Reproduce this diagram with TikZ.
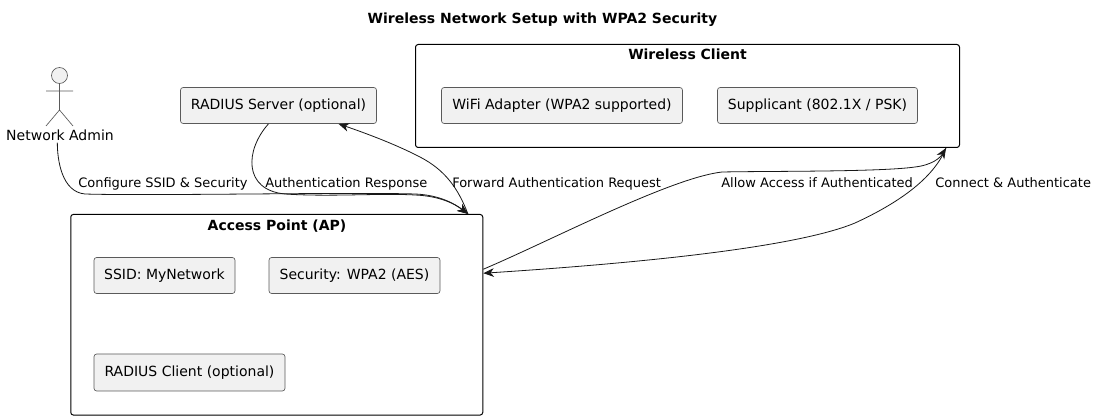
\documentclass[tikz,border=0pt]{standalone}
\usepackage{fontspec}
\setmainfont{DejaVu Sans}
\usetikzlibrary{arrows.meta}
\definecolor{boxfill}{HTML}{F1F1F1}
\definecolor{ink}{HTML}{181818}
\definecolor{edge}{HTML}{5A5A5A}
\tikzset{
  box/.style={draw=edge,line width=0.5pt,fill=boxfill,rounded corners=2pt,inner sep=0pt,text=black,font=\fontsize{10.5pt}{12pt}\selectfont},
  group/.style={draw=black,line width=0.75pt,rounded corners=2pt,inner sep=0pt},
  grouptitle/.style={inner sep=0pt,font=\fontsize{10.5pt}{12pt}\selectfont\bfseries},
  link/.style={draw=ink,line width=0.6pt,-{Stealth[length=8pt,width=6.5pt,inset=2.5pt]}},
  linklabel/.style={inner sep=0pt,anchor=base west,font=\fontsize{9.75pt}{12pt}\selectfont},
  limb/.style={draw=edge,line width=0.5pt}
}
\begin{document}
\begin{tikzpicture}[x=0.75pt,y=-0.75pt]
  \useasboundingbox (0,0) rectangle (1097,420);
  \node[grouptitle] (title) at (542.5,19.5) {Wireless Network Setup with WPA2 Security};

  \node[group,minimum width=408pt,minimum height=77.25pt] (client) at (687.5,96) {};
  \node[grouptitle] (clienttitle) at (687.5,54) {Wireless Client};
  \node[box,minimum width=180.75pt,minimum height=27pt] (wifi) at (562,105.5) {WiFi Adapter (WPA2 supported)};
  \node[box,minimum width=150pt,minimum height=27pt] (supplicant) at (817.5,105.5) {Supplicant (802.1X / PSK)};

  \node[box,minimum width=147pt,minimum height=27pt] (radius) at (278.5,105.5) {RADIUS Server (optional)};

  \node[group,minimum width=309pt,minimum height=150.5pt] (ap) at (276.75,314.75) {};
  \node[grouptitle] (aptitle) at (277,226) {Access Point (AP)};
  \node[box,minimum width=105.75pt,minimum height=27pt] (ssid) at (164.5,275.5) {SSID: MyNetwork};
  \node[box,minimum width=128.25pt,minimum height=27pt] (security) at (354.5,275.5) {Security: WPA2 (AES)};
  \node[box,minimum width=143.25pt,minimum height=27.75pt] (radiusclient) at (189.5,372.5) {RADIUS Client (optional)};

  \draw[limb,fill=boxfill] (59.5,75.5) circle (8);
  \draw[limb] (59.5,83.5) -- (59.5,110) (46,91) -- (73,91) (46,126) -- (59.5,110) -- (73,126);
  \node[inner sep=0pt,font=\fontsize{10.5pt}{12pt}\selectfont] (admin) at (60,135) {Network Admin};

  \draw[link] ([xshift=-2pt,yshift=-1.5pt]admin.south) .. controls +(0,18) and (62,192) .. (85,194)
    .. controls (150,196) and (350,192) .. (415,194)
    .. controls (440,195) and (455,204) .. ([xshift=-11.5pt]ap.north east);
  \draw[link] ([xshift=-7.5pt]radius.south) .. controls (245,150) and (243,190) .. (285,194)
    .. controls (330,197) and (380,193) .. (415,195)
    .. controls (440,196) and (455,204) .. ([xshift=-11.5pt]ap.north east);
  \draw[link] ([xshift=-11.5pt]ap.north east) .. controls (458,188) and (445,170) .. (420,157)
    .. controls (395,144) and (365,133) .. ([xshift=45pt]radius.south);
  \draw[link] ([yshift=-41.5pt]ap.north east) .. controls (550,241) and (670,178) .. (722,172)
    .. controls (770,171) and (880,172) .. (915,167)
    .. controls (932,165) and (940,158) .. ([xshift=-10.5pt]client.south east);
  \draw[link] ([xshift=-10.5pt]client.south east) .. controls (935,175) and (905,200) .. (855,223)
    .. controls (790,250) and (610,265) .. ([yshift=-44.5pt]ap.north east);

  \node[linklabel] (configure) at (78,188) {Configure SSID \& Security};
  \node[linklabel] (response) at (265,188) {Authentication Response};
  \node[linklabel] (forward) at (452,188) {Forward Authentication Request};
  \node[linklabel] (allow) at (721,188) {Allow Access if Authenticated};
  \node[linklabel] (connect) at (935,188) {Connect \& Authenticate};
\end{tikzpicture}
\end{document}
